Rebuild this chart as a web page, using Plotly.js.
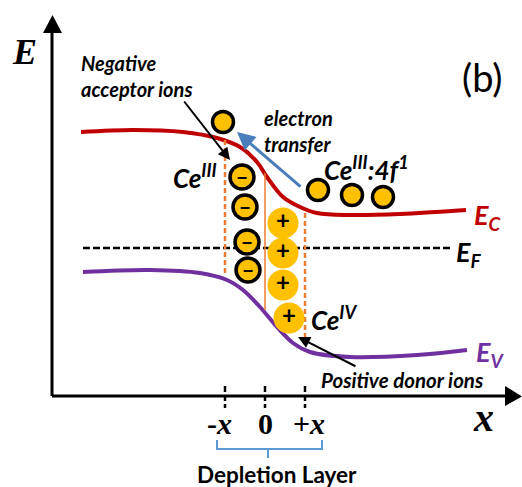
<!DOCTYPE html>
<html><head><meta charset="utf-8">
<script src="https://cdn.plot.ly/plotly-3.0.1.min.js"></script>
<style>html,body{margin:0;padding:0;background:#fff}#plot{width:522px;height:487px}</style>
</head><body><div id="plot"></div>
<script>
// Diagram coordinates: position x (origin at drawn E axis), energy E (origin at drawn x axis)
const ecX = [29, 81, 131, 165, 188, 205, 215, 231, 248, 265, 298, 348, 414];
const ecE = [264, 266, 264, 258, 249, 234, 219, 199, 189, 183, 181, 182, 186];
const evX = [31, 98, 148, 175, 191, 208, 225, 241, 258, 298, 365, 415];
const evE = [124, 126, 123, 116, 106, 89, 69, 53, 44, 39, 41, 46];
const efX = [31, 398];
const efE = [148, 148];
// depletion layer edges / junction
const depX = [173, 213, 253];          // -x, 0, +x
const depLabels = ['<b>-<i>x</i></b>', '<b>0</b>', '<b>+<i>x</i></b>'];
const depTop = [256, 223, 183];
const depBot = [121, 86, 58];
// ions
const negX = [190, 193, 195, 196];
const negE = [219, 189, 154, 126];
const posX = [231, 231, 231, 237];
const posE = [173, 143, 111, 78];
// electrons
const freeX = [171];
const freeE = [274];
const f1X = [266, 300, 331];
const f1E = [206, 201, 199];

const Y = '#ffc000';
const traces = [
  {x: ecX, y: ecE, mode: 'lines', line: {color: '#c00000', width: 4, shape: 'spline', smoothing: 1}},
  {x: evX, y: evE, mode: 'lines', line: {color: '#7030a0', width: 4, shape: 'spline', smoothing: 1}},
  {x: efX, y: efE, mode: 'lines', line: {color: '#000', width: 2.5, dash: '7px,3px'}},
  {x: [depX[0], depX[0]], y: [depTop[0], depBot[0]], mode: 'lines', line: {color: '#ed7d31', width: 2.5, dash: '5px,3px'}},
  {x: [depX[2], depX[2]], y: [depTop[2], depBot[2]], mode: 'lines', line: {color: '#ed7d31', width: 2.5, dash: '5px,3px'}},
  {x: [depX[1], depX[1]], y: [depTop[1], depBot[1]], mode: 'lines', line: {color: '#ed7d31', width: 1.5}},
  {x: negX, y: negE, mode: 'markers', marker: {size: 24, color: Y, line: {color: '#000', width: 3.5}}},
  {x: negX, y: negE.map(v => v - 3), mode: 'text', text: negX.map(() => '<b>−</b>'), textfont: {family: 'Lato', size: 20, color: '#000'}},
  {x: posX, y: posE, mode: 'markers+text', marker: {size: 31, color: Y, line: {width: 0}},
   text: posX.map(() => '<b>+</b>'), textposition: 'middle center', textfont: {family: 'Lato', size: 24, color: '#000'}},
  {x: freeX.concat(f1X), y: freeE.concat(f1E), mode: 'markers', marker: {size: 21, color: Y, line: {color: '#000', width: 3.5}}}
];

const ann = [];
function t(x, y, text, size, opts) {
  ann.push(Object.assign({x: x, y: y, xref: 'x', yref: 'y', text: text, showarrow: false,
    font: {family: 'Lato', size: size, color: '#000'}, xanchor: 'left', yanchor: 'middle', align: 'left'}, opts || {}));
}
function arrow(x, y, ax, ay, color, w) {
  ann.push({x: x, y: y, ax: ax, ay: ay, xref: 'x', yref: 'y', axref: 'x', ayref: 'y', text: '',
    showarrow: true, arrowhead: 2, arrowsize: 1.2, arrowwidth: w, arrowcolor: color});
}
t(-28, 344, '<b><i>E</i></b>', 36, {font: {family: 'Liberation Serif', size: 36, color: '#000'}, xanchor: 'center'});
t(431, -21, '<b><i>x</i></b>', 40, {font: {family: 'Liberation Serif', size: 40, color: '#000'}, xanchor: 'center'});
depX.forEach((x, i) => t(x - (i === 1 ? 0 : (i === 0 ? 6 : -4)), -27, depLabels[i], 30,
  {font: {family: 'Liberation Serif', size: 30, color: '#000'}, xanchor: 'center'}));
t(430, 319, '(b)', 38, {xanchor: 'center'});
t(27, 319, '<b><i>Negative<br>acceptor ions</i></b>', 20, {yshift: 1});
t(210, 265, '<b><i>electron<br>transfer</i></b>', 20);
t(167, 220, '<b><i>Ce<sup>III</sup></i></b>', 26, {xanchor: 'right'});
t(270, 228, '<b><i>Ce<sup>III</sup>:4f<sup>1</sup></i></b>', 26);
t(257, 78, '<b><i>Ce<sup>IV</sup></i></b>', 26);
t(267, 16, '<b><i>Positive donor ions</i></b>', 20.5);
t(420, 180, '<b><i>E<sub>C</sub></i></b>', 27, {font: {family: 'Lato', size: 27, color: '#c00000'}});
t(402, 143, '<b><i>E<sub>F</sub></i></b>', 27);
t(422, 43, '<b><i>E<sub>V</sub></i></b>', 27, {font: {family: 'Lato', size: 27, color: '#7030a0'}});
t(225, -78, '<b>Depletion Layer</b>', 22.5, {xanchor: 'center'});
arrow(185, 264, 250, 208, '#4a7ebb', 3);
arrow(178, 236, 131, 296, '#000', 2);
arrow(246, 59, 305, 29, '#000', 2);

const shapes = [
  {type: 'line', xref: 'x', yref: 'y', x0: 0, y0: 0, x1: 0, y1: 364, line: {color: '#000', width: 3}},
  {type: 'path', xref: 'x', yref: 'y', path: 'M -9,363 L 10,363 L 0.5,381 Z', fillcolor: '#000', line: {width: 0}},
  {type: 'line', xref: 'x', yref: 'y', x0: 0, y0: 0, x1: 454, y1: 0, line: {color: '#000', width: 3}},
  {type: 'path', xref: 'x', yref: 'y', path: 'M 453,10 L 453,-10 L 470,-0.5 Z', fillcolor: '#000', line: {width: 0}},
  {type: 'path', xref: 'x', yref: 'y', path: 'M 165,-44 L 165,-53 L 270,-53 L 270,-44 M 216,-53 L 216,-62',
   line: {color: '#5b9bd5', width: 2}}
];
depX.forEach(x => shapes.push({type: 'line', xref: 'x', yref: 'y', x0: x, x1: x, y0: 10, y1: -12,
  line: {color: '#000', width: 2.5, dash: '6px,3px'}}));

Plotly.newPlot('plot', traces, {
  width: 522, height: 487, margin: {l: 0, r: 0, t: 0, b: 0},
  paper_bgcolor: '#fff', plot_bgcolor: '#fff', showlegend: false,
  xaxis: {range: [-52, 470], visible: false, fixedrange: true},
  yaxis: {range: [-91, 396], visible: false, fixedrange: true},
  annotations: ann, shapes: shapes
}, {staticPlot: true});
</script></body></html>
